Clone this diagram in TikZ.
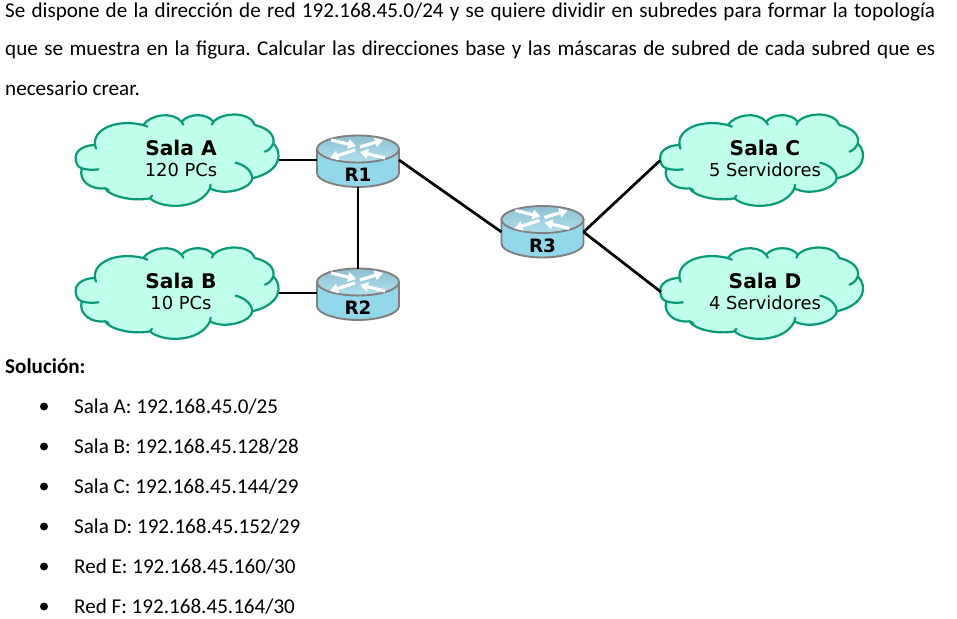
\documentclass[tikz,border=0pt]{standalone}
\usepackage{fontspec}
\setmainfont{Carlito}
\newfontfamily\netfont{DejaVu Sans}
\usetikzlibrary{arrows.meta}
\definecolor{cloudfill}{HTML}{BFFFEB}
\definecolor{cloudline}{HTML}{0A9A78}
\definecolor{routerbody}{HTML}{93D7EA}
\definecolor{routertop}{HTML}{B0E0EC}
\definecolor{routertopb}{HTML}{8FC0D2}
\definecolor{routerline}{HTML}{808080}
\tikzset{
  body/.style={anchor=base west,inner sep=0pt,font=\fontsize{21.1}{24}\selectfont,text=black},
  cloudshape/.style={draw=cloudline,line width=2.2pt,line join=round,line cap=round},
  link/.style={draw=black,line width=2.7pt},
  roomname/.style={inner sep=0pt,font=\netfont\bfseries\fontsize{20.2}{22}\selectfont},
  roomsize/.style={inner sep=0pt,font=\netfont\fontsize{17.9}{20}\selectfont},
  rname/.style={inner sep=0pt,font=\netfont\bfseries\fontsize{18.4}{20}\selectfont},
  rarrow/.style={draw=white,line width=3.2pt,-{Triangle[length=8pt,width=9.5pt]}},
  bulletdot/.style={circle,fill=black,inner sep=0pt,minimum size=8pt},
  cloudpic/.pic={
    \begin{scope}[x=0.3333pt,y=-0.3333pt]
    \fill[cloudfill,cloudshape]
      (47,172) .. controls (47,150) and (75,135) .. (105,135)
      .. controls (98,90) and (165,55) .. (250,75)
      .. controls (270,45) and (335,32) .. (365,65)
      .. controls (385,40) and (440,38) .. (460,65)
      .. controls (490,35) and (570,35) .. (585,75)
      .. controls (625,85) and (645,105) .. (640,130)
      .. controls (670,160) and (662,215) .. (577,235)
      .. controls (575,265) and (495,290) .. (450,265)
      .. controls (420,330) and (305,328) .. (270,295)
      .. controls (220,305) and (150,290) .. (135,265)
      .. controls (95,270) and (55,245) .. (65,205)
      .. controls (50,200) and (47,185) .. (47,172) -- cycle;
    \draw[cloudshape] (640,130) .. controls (635,142) and (628,150) .. (615,155);
    \draw[cloudshape] (527,188) .. controls (555,195) and (575,212) .. (577,235);
    \draw[cloudshape] (65,205) .. controls (80,210) and (100,210) .. (115,208);
    \draw[cloudshape] (105,135) -- (108,146);
    \draw[cloudshape] (450,265) -- (452,254);
    \draw[cloudshape] (270,295) -- (276,287);
    \draw[cloudshape] (135,265) -- (146,270);
    \draw[cloudshape] (250,75) -- (262,80);
    \draw[cloudshape] (365,65) -- (370,74);
    \draw[cloudshape] (460,65) -- (456,74);
    \end{scope}
  },
  routerpic/.pic={
    \path[fill=routerbody,draw=routerline,line width=1.9pt]
      (-41,0) -- (-41,24) .. controls (-41,32) and (-20,38) .. (0,38)
      .. controls (20,38) and (41,32) .. (41,24) -- (41,0) -- cycle;
    \path[top color=routertopb,bottom color=routertop,draw=routerline,line width=1.9pt]
      (0,0) ellipse [x radius=41,y radius=13.5];
    \draw[rarrow] (-27,-9) -- (-2,-3);
    \draw[rarrow] (2,-2) -- (25,-9);
    \draw[rarrow] (-3,1) -- (-28,9);
    \draw[rarrow] (27,9) -- (2,3);
    \coordinate (-w) at (-41,11);
    \coordinate (-e) at (41,11);
    \coordinate (-s) at (0,38);
    \coordinate (-n) at (0,-13.5);
    \coordinate (-lbl) at (0,26);
    \coordinate (-sidew) at (-41,12.5);
    \coordinate (-sidee) at (41,12.5);
  }
}
\begin{document}
\begin{tikzpicture}[x=1pt,y=-1pt]
\frenchspacing
\useasboundingbox (0,0) rectangle (957,618);
\fill[white] (0,0) rectangle (957,618);

\node[body] (l1) at (5,18) {\makebox[930pt][s]{Se dispone de la dirección de red 192.168.45.0/24 y se quiere dividir en subredes para formar la topología}};
\node[body] (l2) at (5,56) {\makebox[930pt][s]{que se muestra en la figura. Calcular las direcciones base y las máscaras de subred de cada subred que es}};
\node[body] (l3) at (5,95) {necesario crear.};

\pic (ca) at (60,100) {cloudpic};
\pic (cb) at (60,233) {cloudpic};
\pic (cc) at (644.5,100) {cloudpic};
\pic (cd) at (644.5,233) {cloudpic};

\coordinate (ca-e) at (279,160);
\coordinate (cb-e) at (279,293);
\coordinate (cc-w) at (660,160.5);
\coordinate (cd-w) at (661,292);

\pic (r1) at (358,149) {routerpic};
\pic (r2) at (358,282) {routerpic};
\pic (r3) at (542.5,219.5) {routerpic};

\draw[link] (ca-e) -- (r1-w);
\draw[link] (cb-e) -- (r2-w);
\draw[link] (r1-s) -- (r2-n);
\draw[link] (r1-e) -- (r3-sidew);
\draw[link] (r3-sidee) -- (cc-w);
\draw[link] (r3-sidee) -- (cd-w);

\node[rname] (n1) at (r1-lbl) {R1};
\node[rname] (n2) at (r2-lbl) {R2};
\node[rname] (n3) at (r3-lbl) {R3};

\node[roomname] (ta) at (181,148) {Sala A};
\node[roomsize] (sa) at (181,170) {120 PCs};
\node[roomname] (tb) at (181,281) {Sala B};
\node[roomsize] (sb) at (181,303) {10 PCs};
\node[roomname] (tc) at (765,148) {Sala C};
\node[roomsize] (sc) at (765,170) {5 Servidores};
\node[roomname] (td) at (765,281) {Sala D};
\node[roomsize] (sd) at (765,303) {4 Servidores};

\node[body] (sol) at (5,373) {\textbf{Solución:}};
\foreach \nm/\yy/\tx in {a/406.5/{Sala A: 192.168.45.0/25},b/446.5/{Sala B: 192.168.45.128/28},c/486.5/{Sala C: 192.168.45.144/29},d/526.5/{Sala D: 192.168.45.152/29},e/566.5/{Red E: 192.168.45.160/30},f/606.5/{Red F: 192.168.45.164/30}}{
  \node[bulletdot] (b\nm) at (44,\yy) {};
  \node[body] (t\nm) at (74,\yy+6.5) {\tx};
}
\end{tikzpicture}
\end{document}
